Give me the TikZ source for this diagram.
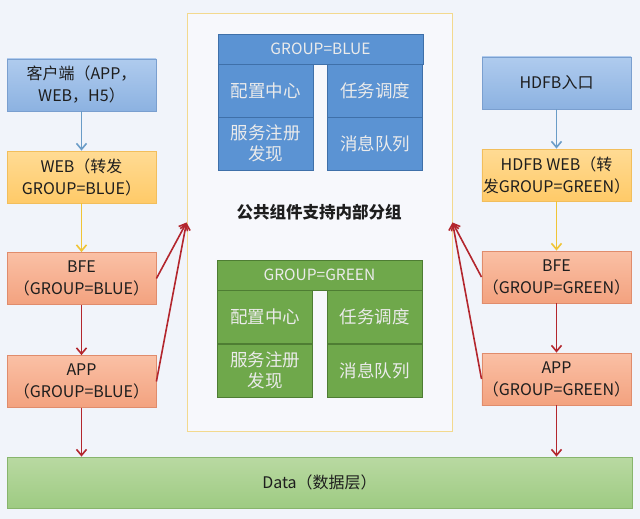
\documentclass[tikz,border=0pt]{standalone}
\usepackage{fontspec}
\setmainfont{Noto Sans CJK SC}
\usepackage{xcolor}
\usepackage{tikz}
\usetikzlibrary{arrows.meta}
\definecolor{bgColor}{HTML}{F1F4FA}
\definecolor{textColor}{HTML}{1E1E1E}
\definecolor{clientTop}{HTML}{AFCBEE}
\definecolor{clientBot}{HTML}{8CB2E1}
\definecolor{clientLine}{HTML}{7A9FCF}
\definecolor{webTop}{HTML}{FFDB94}
\definecolor{webBot}{HTML}{FFCA68}
\definecolor{webLine}{HTML}{F2BE5C}
\definecolor{bfeTop}{HTML}{FAC0A5}
\definecolor{bfeBot}{HTML}{F3A27F}
\definecolor{bfeLine}{HTML}{E08C6C}
\definecolor{blueCell}{HTML}{5B93D3}
\definecolor{blueLine}{HTML}{3F70A9}
\definecolor{greenCell}{HTML}{6FA84B}
\definecolor{greenLine}{HTML}{4E7D33}
\definecolor{dataTop}{HTML}{B9D9A2}
\definecolor{dataBot}{HTML}{9ECB82}
\definecolor{dataLine}{HTML}{88B56C}
\definecolor{pubLine}{HTML}{F3D98E}
\definecolor{blueArrow}{HTML}{6A9CC7}
\definecolor{yellowArrow}{HTML}{F0C436}
\definecolor{redArrow}{HTML}{B3262D}

\begin{document}
\begin{tikzpicture}[x=1pt, y=-1pt, >={Straight Barb[length=6pt, width=10pt]},
    box/.style={draw, line width=0.8pt, minimum width=149pt, minimum height=52pt,
        align=center, text=textColor, inner sep=1pt, font=\fontsize{16}{22}\selectfont},
    clientbox/.style={box, draw=clientLine, top color=clientTop, bottom color=clientBot},
    webbox/.style={box, draw=webLine, top color=webTop, bottom color=webBot},
    bfebox/.style={box, draw=bfeLine, top color=bfeTop, bottom color=bfeBot},
    cell/.style={draw=#1Line, fill=#1Cell, line width=0.8pt, minimum width=95pt,
        minimum height=53pt, align=center, text=white!92!black, inner sep=1pt,
        font=\fontsize{17.5}{21}\selectfont},
    head/.style={cell=#1, minimum width=205pt, minimum height=30pt,
        font=\fontsize{15.5}{18}\selectfont},
    flow/.style={->, line width=1.6pt}]
    \fill[bgColor] (0,0) rectangle (640,519);
    \useasboundingbox (0,0) rectangle (640,519);

    % middle block
    \node[draw=pubLine, fill=white!40!bgColor, line width=1pt, minimum width=265pt,
        minimum height=417pt] (pub) at (319.5,222.5) {};
    \node[head=blue] (blueHd) at (320.5,49) {GROUP=BLUE};
    \node[cell=blue] (blue11) at (265.5,90.5) {配置中心};
    \node[cell=blue] (blue12) at (375,90.5) {任务调度};
    \node[cell=blue] (blue21) at (265.5,143.5) {服务注册\\发现};
    \node[cell=blue] (blue22) at (375,143.5) {消息队列};
    \node[text=textColor, font=\fontsize{16.5}{20}\selectfont\bfseries] (pubText) at (319,212)
        {公共组件支持内部分组};
    \node[head=green] (greenHd) at (319.5,275) {GROUP=GREEN};
    \node[cell=green] (green11) at (265,316.5) {配置中心};
    \node[cell=green] (green12) at (374.5,316.5) {任务调度};
    \node[cell=green] (green21) at (265,370.5) {服务注册\\发现};
    \node[cell=green] (green22) at (374.5,370.5) {消息队列};

    % left column
    \node[clientbox] (client) at (81.5,85) {客户端（APP，\\WEB，H5）};
    \node[webbox] (webL) at (81.5,177) {WEB（转发\\GROUP=BLUE）};
    \node[bfebox] (bfeL) at (81.5,278.5) {BFE\\（GROUP=BLUE）};
    \node[bfebox] (appL) at (81.5,381.5) {APP\\（GROUP=BLUE）};

    % right column
    \node[clientbox] (hdfb) at (556.5,83) {HDFB入口};
    \node[webbox] (webR) at (556.5,175) {HDFB WEB（转\\发GROUP=GREEN）};
    \node[bfebox] (bfeR) at (556.5,277) {BFE\\（GROUP=GREEN）};
    \node[bfebox] (appR) at (556.5,379) {APP\\（GROUP=GREEN）};

    \node[box, draw=dataLine, top color=dataTop, bottom color=dataBot, minimum width=625pt,
        minimum height=51pt] (data) at (319.5,482.5) {Data（数据层）};

    \draw[flow, blueArrow] (client) -- (webL);
    \draw[flow, yellowArrow] (webL) -- (bfeL);
    \draw[flow, redArrow] (bfeL) -- (appL);
    \draw[flow, redArrow] (appL) -- (appL.south |- data.north);
    \draw[flow, redArrow] (bfeL.east) -- (pub.west);
    \draw[flow, redArrow] (appL.east) -- (pub.west);

    \draw[flow, blueArrow] (hdfb) -- (webR);
    \draw[flow, yellowArrow] (webR) -- (bfeR);
    \draw[flow, redArrow] (bfeR) -- (appR);
    \draw[flow, redArrow] (appR) -- (appR.south |- data.north);
    \draw[flow, redArrow] (bfeR.west) -- (pub.east);
    \draw[flow, redArrow] (appR.west) -- (pub.east);
\end{tikzpicture}
\end{document}
